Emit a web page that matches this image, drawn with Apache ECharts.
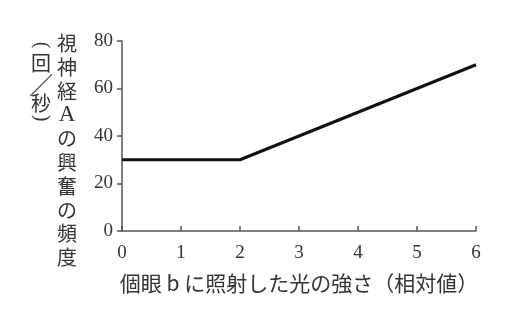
<!DOCTYPE html>
<html><head><meta charset="utf-8">
<script src="https://cdn.jsdelivr.net/npm/echarts@6/dist/echarts.min.js"></script>
<style>html,body{margin:0;padding:0;background:#fff}#c{width:512px;height:325px}</style>
</head><body><div id="c"></div>
<script>
const xValues = [0, 2, 6];
const yValues = [30, 30, 70];
const xTicks = [0, 1, 2, 3, 4, 5, 6];
const yTicks = [0, 20, 40, 60, 80];
const xTitle = '個眼 b に照射した光の強さ（相対値）';
const yTitle = ['視','神','経','A','の','興','奮','の','頻','度'];
const yUnit = ['(','回','／','秒',')'];

const numFont = '"Liberation Serif","DejaVu Serif",serif';
const cjkFont = '"Noto Sans CJK JP","Noto Sans CJK SC",sans-serif';
const txt = '#333';

const titleGlyphs = yTitle.map((ch, i) => ({
  type:'text', x:67, y:43.5 + 23.8*i,
  style:{text:ch, font:(ch==='A' ? '23px '+numFont : '20px '+cjkFont), fill:txt,
    align:'center', verticalAlign:'middle'}
}));
const unitY = [45, 63.5, 84.5, 103.5, 118];
const unitGlyphs = yUnit.map((ch, i) => {
  const paren = (ch==='(' || ch===')');
  return {
    type:'text', x:41, y:unitY[i], rotation: paren ? -Math.PI/2 : 0,
    style:{text:ch, font:(paren ? '20px '+numFont : (ch==='／' ? '24px ' : '20px ')+cjkFont), fill:txt,
      align:'center', verticalAlign:'middle'}
  };
});

const chart = echarts.init(document.getElementById('c'), null, {renderer:'canvas'});
chart.setOption({
  animation:false,
  backgroundColor:'#fff',
  grid:{left:122, right:36, top:41, bottom:94},
  xAxis:{type:'value', min:0, max:6, interval:1,
    name:xTitle, nameLocation:'middle', nameGap:42,
    nameTextStyle:{fontFamily:cjkFont, fontSize:21, color:txt},
    axisLine:{show:true, lineStyle:{color:'#555', width:1.5}},
    axisTick:{show:true, inside:true, length:5, lineStyle:{color:'#555', width:1.5}},
    axisLabel:{fontFamily:numFont, fontSize:19, color:txt, margin:13,
      formatter:v=>xTicks.includes(v)?String(v):''},
    splitLine:{show:false}},
  yAxis:{type:'value', min:0, max:80, interval:20,
    axisLine:{show:true, lineStyle:{color:'#555', width:1.5}},
    axisTick:{show:true, inside:false, length:5, lineStyle:{color:'#555', width:1.5}},
    axisLabel:{fontFamily:numFont, fontSize:19, color:txt, margin:9,
      formatter:v=>yTicks.includes(v)?String(v):''},
    splitLine:{show:false}},
  graphic:titleGlyphs.concat(unitGlyphs),
  series:[{type:'line', data:xValues.map((x,i)=>[x,yValues[i]]), symbol:'none',
    lineStyle:{color:'#111', width:3}}]
});
</script></body></html>
